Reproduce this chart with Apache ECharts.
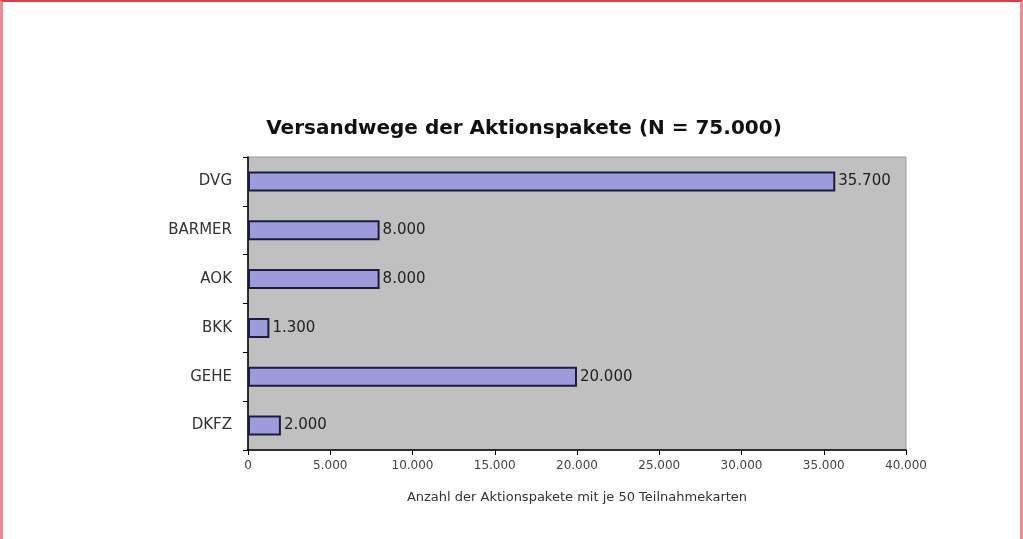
<!DOCTYPE html>
<html><head><meta charset="utf-8">
<script src="https://cdn.jsdelivr.net/npm/echarts@6/dist/echarts.min.js"></script>
<style>
html,body{margin:0;padding:0;background:#fff;}
#frame{position:absolute;left:0;top:0;width:1023px;height:539px;box-sizing:border-box;border-top:2px solid #e03c48;border-left:3px solid #ef8a92;border-right:3px solid #ef8a92;}
#c{position:absolute;left:0;top:0;width:1023px;height:539px;}
</style></head>
<body>
<div id="c"></div>
<div id="frame"></div>
<script>
const categories = ["DVG", "BARMER", "AOK", "BKK", "GEHE", "DKFZ"];
const values = [35700, 8000, 8000, 1300, 20000, 2000];
const titleText = "Versandwege der Aktionspakete (N = 75.000)";
const xAxisName = "Anzahl der Aktionspakete mit je 50 Teilnahmekarten";

function fmt(v){ return v.toString().replace(/\B(?=(\d{3})+(?!\d))/g, "."); }

const chart = echarts.init(document.getElementById('c'));
chart.setOption({
  animation: false,
  title: {
    text: titleText, left: 519, top: 114, textAlign: 'center',
    textStyle: {fontFamily: 'DejaVu Sans', fontWeight: 'bold', fontSize: 20, color: '#111'}
  },
  grid: {left: 248, right: 117, top: 157, bottom: 89, show: true,
         backgroundColor: '#c0c0c0', borderColor: '#9a9a9a', borderWidth: 1},
  xAxis: {
    type: 'value', min: 0, max: 40000, interval: 5000,
    axisLine: {show: true, lineStyle: {color: '#000', width: 1.5}},
    axisTick: {show: true, length: 5, lineStyle: {color: '#000'}},
    splitLine: {show: false},
    axisLabel: {formatter: fmt, fontFamily: 'DejaVu Sans', fontSize: 12, color: '#444', margin: 10},
    name: xAxisName, nameLocation: 'middle', nameGap: 41,
    nameTextStyle: {fontFamily: 'DejaVu Sans', fontSize: 13, color: '#333'}
  },
  yAxis: {
    type: 'category', data: categories, inverse: true,
    axisLine: {show: true, lineStyle: {color: '#000', width: 1.5}},
    axisTick: {show: true, length: 5, lineStyle: {color: '#000'}},
    axisLabel: {fontFamily: 'DejaVu Sans', fontSize: 15, color: '#333', margin: 16}
  },
  series: [{
    type: 'bar', data: values, barWidth: '41%',
    itemStyle: {color: '#9c9cdc', borderColor: '#1c1c3c', borderWidth: 2},
    label: {show: true, position: 'right', distance: 3, formatter: p => fmt(p.value),
            fontFamily: 'DejaVu Sans', fontSize: 15, color: '#222'}
  }]
});
</script>
</body></html>
